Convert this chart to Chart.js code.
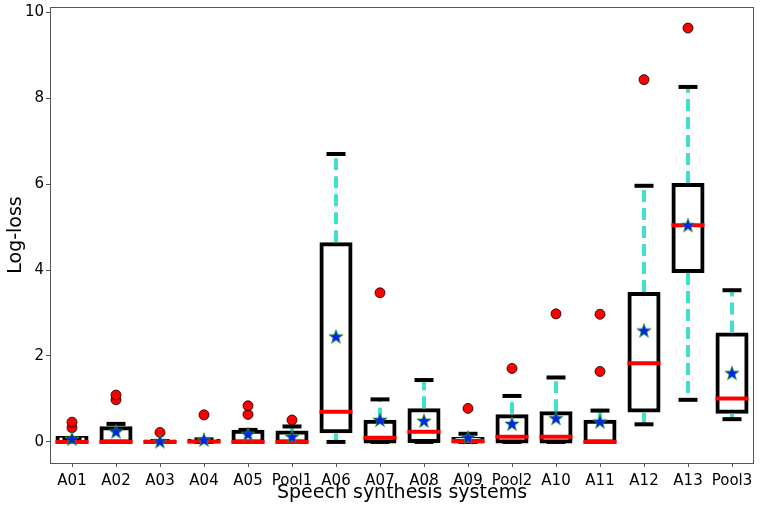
<!DOCTYPE html>
<html>
<head>
<meta charset="utf-8">
<style>
  body { margin: 0; background: #fff; }
  #wrap { width: 764px; height: 509px; }
</style>
<script src="https://cdn.jsdelivr.net/npm/chart.js@4/dist/chart.umd.min.js"></script>
</head>
<body>
<div id="wrap"><canvas id="lossChart"></canvas></div>
<script>
const systems = ["A01", "A02", "A03", "A04", "A05", "Pool1", "A06", "A07", "A08", "A09", "Pool2", "A10", "A11", "A12", "A13", "Pool3"];
const whiskerLow = [0, 0, 0, 0, 0, 0, 0, 0, 0, 0, 0, 0, 0, 0.41, 0.98, 0.53];
const q1 = [0, 0, 0, 0, 0, 0, 0.25, 0, 0.02, 0, 0.01, 0.01, 0, 0.73, 3.98, 0.7];
const medians = [0, 0, 0, 0.01, 0, 0, 0.7, 0.1, 0.24, 0.02, 0.12, 0.12, 0, 1.83, 5.04, 1.01];
const q3 = [0.09, 0.32, 0.01, 0.03, 0.24, 0.22, 4.6, 0.47, 0.74, 0.07, 0.6, 0.67, 0.47, 3.44, 5.98, 2.5];
const whiskerHigh = [0.09, 0.42, 0.02, 0.06, 0.28, 0.36, 6.7, 0.99, 1.44, 0.19, 1.07, 1.5, 0.73, 5.96, 8.26, 3.53];
const means = [0.07, 0.24, 0.01, 0.05, 0.18, 0.12, 2.45, 0.51, 0.49, 0.1, 0.42, 0.55, 0.47, 2.59, 5.04, 1.6];
const outliers = [[0.33, 0.46], [0.98, 1.09], [0.22], [0.63], [0.64, 0.84], [0.51], [], [3.47], [], [0.78], [1.71], [2.98], [1.64, 2.97], [8.43], [9.63], []];
const yTicks = [0, 2, 4, 6, 8, 10];

const font = "DejaVu Sans";
const boxShare = 0.66;

function makeStar() {
  const c = document.createElement("canvas");
  c.width = 16;
  c.height = 16;
  const g = c.getContext("2d");
  g.beginPath();
  for (let k = 0; k < 10; k++) {
    const r = k % 2 === 0 ? 7.5 : 3;
    const a = -Math.PI / 2 + (k * Math.PI) / 5;
    g.lineTo(8 + r * Math.cos(a), 8.4 + r * Math.sin(a));
  }
  g.closePath();
  g.fillStyle = "#0022ee";
  g.fill();
  g.strokeStyle = "#2ca02c";
  g.lineWidth = 0.8;
  g.stroke();
  return c;
}

function line(ctx, x1, y1, x2, y2) {
  ctx.beginPath();
  ctx.moveTo(x1, y1);
  ctx.lineTo(x2, y2);
  ctx.stroke();
}

// whiskers, caps and medians on top of the box dataset
const boxParts = {
  id: "boxParts",
  afterDatasetDraw(chart, args) {
    if (args.index !== 0) return;
    const ctx = chart.ctx;
    const xs = chart.scales.x;
    const ys = chart.scales.y;
    const step = xs.getPixelForValue(1) - xs.getPixelForValue(0);
    const boxHalf = (step * boxShare) / 2 + 2;
    const capHalf = 9.5;
    ctx.save();
    ctx.lineWidth = 4;
    systems.forEach((name, i) => {
      const cx = xs.getPixelForValue(i);
      ctx.lineCap = "butt";
      ctx.strokeStyle = "#40e0d0";
      ctx.setLineDash([12, 6]);
      if (q1[i] > whiskerLow[i]) line(ctx, cx, ys.getPixelForValue(q1[i]) + 2, cx, ys.getPixelForValue(whiskerLow[i]));
      if (whiskerHigh[i] > q3[i]) line(ctx, cx, ys.getPixelForValue(q3[i]) - 2, cx, ys.getPixelForValue(whiskerHigh[i]));
      ctx.setLineDash([]);
      ctx.strokeStyle = "#000";
      line(ctx, cx - capHalf, ys.getPixelForValue(whiskerLow[i]), cx + capHalf, ys.getPixelForValue(whiskerLow[i]));
      line(ctx, cx - capHalf, ys.getPixelForValue(whiskerHigh[i]), cx + capHalf, ys.getPixelForValue(whiskerHigh[i]));
      ctx.strokeStyle = "#ff0000";
      line(ctx, cx - boxHalf, ys.getPixelForValue(medians[i]), cx + boxHalf, ys.getPixelForValue(medians[i]));
    });
    ctx.restore();
  },
  afterDraw(chart) {
    const a = chart.chartArea;
    const ctx = chart.ctx;
    ctx.save();
    ctx.strokeStyle = "#555";
    ctx.lineWidth = 1;
    ctx.strokeRect(a.left + 0.5, a.top + 0.5, a.right - a.left - 1, a.bottom - a.top);
    ctx.restore();
  },
};

const outlierPoints = [];
outliers.forEach((list, i) => {
  for (let v of list) outlierPoints.push({ x: systems[i], y: v });
});
const meanPoints = means.map((v, i) => ({ x: systems[i], y: v }));

new Chart(document.getElementById("lossChart"), {
  type: "bar",
  data: {
    labels: systems,
    datasets: [
      {
        label: "box",
        data: q1.map((v, i) => [v, q3[i]]),
        backgroundColor: "#fff",
        borderColor: "#000",
        borderWidth: 4,
        borderSkipped: false,
        inflateAmount: 2,
        categoryPercentage: 1,
        barPercentage: boxShare,
        order: 3,
      },
      {
        type: "line",
        label: "outliers",
        data: outlierPoints,
        showLine: false,
        pointStyle: "circle",
        pointRadius: 5,
        pointBackgroundColor: "#ff0000",
        pointBorderColor: "#000",
        pointBorderWidth: 0.8,
        order: 1,
      },
      {
        type: "line",
        label: "mean",
        data: meanPoints,
        showLine: false,
        pointStyle: makeStar(),
        order: 0,
      },
    ],
  },
  options: {
    responsive: true,
    maintainAspectRatio: false,
    animation: false,
    layout: { padding: { top: 7, right: 10, left: 0, bottom: 0 } },
    plugins: { legend: { display: false }, tooltip: { enabled: false } },
    scales: {
      x: {
        grid: { drawOnChartArea: false, offset: false, tickLength: 4, color: "#555" },
        border: { display: false },
        ticks: {
          color: "#000",
          padding: 5,
          autoSkip: false,
          minRotation: 0,
          maxRotation: 0,
          font: { family: font, size: 15 },
        },
        title: {
          display: true,
          text: "Speech synthesis systems",
          color: "#000",
          font: { family: font, size: 19 },
          padding: { top: 0, bottom: 5 },
        },
        afterFit(scale) {
          scale.height = 46;
          scale.paddingLeft = 0;
          scale.paddingRight = 0;
        },
      },
      y: {
        min: -0.49,
        max: 10.12,
        grid: { drawOnChartArea: false, tickLength: 4, color: "#555" },
        border: { display: false },
        ticks: { color: "#000", padding: 2, font: { family: font, size: 15 } },
        afterBuildTicks(scale) {
          scale.ticks = yTicks.map((v) => ({ value: v }));
        },
        title: {
          display: true,
          text: "Log-loss",
          color: "#000",
          font: { family: font, size: 19 },
          padding: { top: 5, bottom: 0 },
        },
        afterFit(scale) {
          scale.width = 50;
          scale.paddingTop = 0;
          scale.paddingBottom = 0;
        },
      },
    },
  },
  plugins: [boxParts],
});
</script>
</body>
</html>
